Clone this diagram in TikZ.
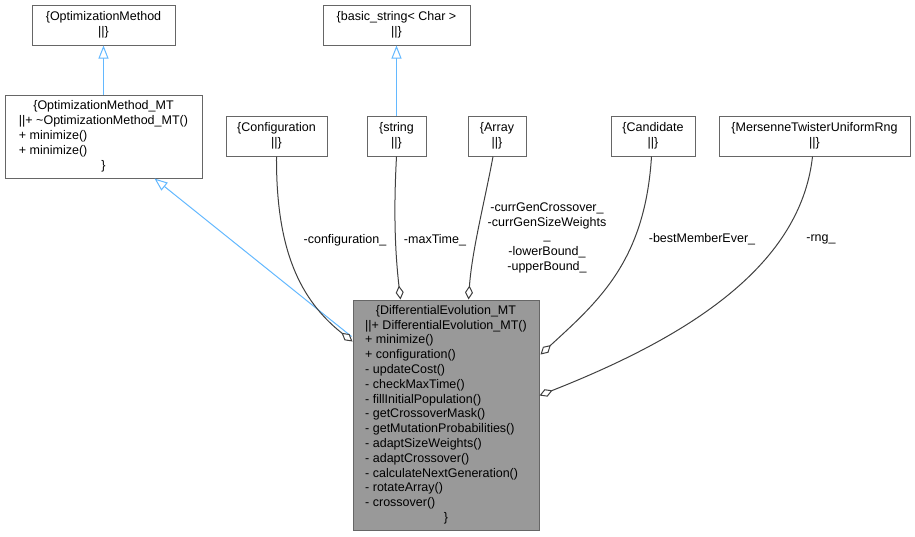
\documentclass[tikz,border=0pt]{standalone}
\usepackage{fontspec}
\setmainfont{Liberation Sans}
\usetikzlibrary{arrows.meta,calc}
\definecolor{boxline}{HTML}{666666}
\definecolor{edgecol}{HTML}{404040}
\definecolor{inhcol}{HTML}{63B8FF}
\definecolor{defill}{HTML}{999999}
\newcommand\dfont{\fontsize{12.5}{14.8}\selectfont}
\newcommand\cl[1]{\multicolumn{1}{@{}c@{}}{#1}}
\tikzset{
  cls/.style={draw=boxline, line width=1pt, fill=white, inner sep=0pt, align=center, font=\dfont},
  mainbox/.style={cls, fill=defill},
  inh/.style={draw=inhcol, line width=1pt, -{Triangle[fill=white, length=13pt, width=10pt]}},
  agg/.style={draw=edgecol, line width=1pt, -{Diamond[fill=white, length=14pt, width=8pt]}},
  lbl/.style={inner sep=0pt, align=center, font=\dfont, text=black}
}
\begin{document}
\begin{tikzpicture}[x=1pt,y=-1pt]
\useasboundingbox (0,0) rectangle (915,536);
% class boxes
\node[cls, minimum width=143pt, minimum height=40pt] (om) at (103.5,25) {\{OptimizationMethod\\||\}};
\node[cls, minimum width=147pt, minimum height=40pt] (bs) at (396.5,25) {\{basic\_string< Char >\\||\}};
\node[cls, minimum width=197pt, minimum height=83pt] (omt) at (103.5,136.5)
  {\begin{tabular}{@{}l@{}}\cl{\{OptimizationMethod\_MT}\\ ||+ \textasciitilde OptimizationMethod\_MT()\\ + minimize()\\ + minimize()\\ \cl{\}}\end{tabular}};
\node[cls, minimum width=101pt, minimum height=40pt] (conf) at (276.5,136) {\{Configuration\\||\}};
\node[cls, minimum width=59pt, minimum height=40pt] (str) at (396.5,136) {\{string\\||\}};
\node[cls, minimum width=58pt, minimum height=40pt] (arr) at (497,136) {\{Array\\||\}};
\node[cls, minimum width=84pt, minimum height=40pt] (cand) at (653,136) {\{Candidate\\||\}};
\node[cls, minimum width=191pt, minimum height=40pt] (mt) at (814.5,136) {\{MersenneTwisterUniformRng\\||\}};
\node[mainbox, minimum width=186pt, minimum height=230pt] (de) at (446,415)
  {\begin{tabular}{@{}l@{}}\cl{\{DifferentialEvolution\_MT}\\
  ||+ DifferentialEvolution\_MT()\\
  + minimize()\\
  + configuration()\\
  - updateCost()\\
  - checkMaxTime()\\
  - fillInitialPopulation()\\
  - getCrossoverMask()\\
  - getMutationProbabilities()\\
  - adaptSizeWeights()\\
  - adaptCrossover()\\
  - calculateNextGeneration()\\
  - rotateArray()\\
  - crossover()\\
  \cl{\}}\end{tabular}};
% end points
\coordinate (omtIn) at ($(omt.south west)+(150,0)$);
\coordinate (deInh) at ($(de.north west)+(-1,37)$);
\coordinate (deConf) at ($(de.north west)+(0,42)$);
\coordinate (deStr) at ($(de.north west)+(48,0)$);
\coordinate (deArr) at ($(de.north west)+(116,0)$);
\coordinate (deCand) at ($(de.north east)+(1,55)$);
\coordinate (deMt) at ($(de.north east)+(0,96)$);
% inheritance
\draw[inh] (omt.north) -- (om.south);
\draw[inh] (str.north) -- (bs.south);
\draw[inh] (deInh) -- (omtIn);
% aggregation
\draw[agg] (conf.south) .. controls (276,250) and (300,300) .. (deConf);
\draw[agg] (str.south) .. controls (393,220) and (396,260) .. (deStr);
\draw[agg] ($(arr.south)+(-4,0)$) .. controls (485,200) and (472,250) .. (deArr);
\draw[agg] ($(cand.south)+(-1.5,0)$) .. controls (645,260) and (600,300) .. (deCand);
\draw[agg] ($(mt.south)+(-2,0)$) .. controls (800,270) and (680,340) .. (deMt);
% labels
\node[lbl] (lconf) at (345,240) {-configuration\_};
\node[lbl] (ltime) at (435,240) {-maxTime\_};
\node[lbl, anchor=north] (lcurr) at (547,202.3) {-currGenCrossover\_\\-currGenSizeWeights\\[-1.5pt]\_};
\node[lbl] (lbnd) at (547,259.5) {-lowerBound\_\\-upperBound\_};
\node[lbl] (lbest) at (702,239) {-bestMemberEver\_};
\node[lbl] (lrng) at (821,239) {-rng\_};
\end{tikzpicture}
\end{document}
